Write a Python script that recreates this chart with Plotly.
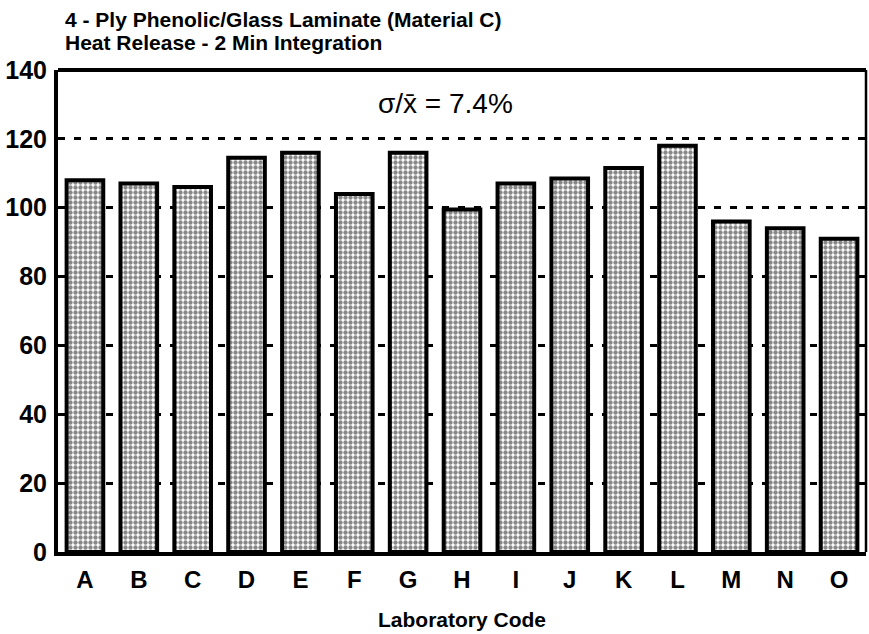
import plotly.graph_objects as go

# Heat release per laboratory, 2 min integration (kW min/m^2)
labs = ["A", "B", "C", "D", "E", "F", "G", "H", "I", "J", "K", "L", "M", "N", "O"]
heat_release = [108, 107, 106, 114.5, 116, 104, 116, 99.5, 107, 108.5, 111.5, 118, 96, 94, 91]
y_ticks = [0, 20, 40, 60, 80, 100, 120, 140]

title_lines = ["4 - Ply Phenolic/Glass Laminate (Material C)",
               "Heat Release - 2 Min Integration"]
cv_label = "σ/x̄ = 7.4%"

FONT = "Liberation Sans, Arial, sans-serif"


def b(s):
    return "<b>" + s + "</b>"


fig = go.Figure()
fig.add_trace(go.Bar(
    x=labs,
    y=heat_release,
    width=0.68,
    marker=dict(
        color="white",
        line=dict(color="black", width=4),
        pattern=dict(shape=".", fgcolor="#111111", bgcolor="white",
                     size=5, solidity=0.6, fillmode="overlay"),
    ),
    showlegend=False,
))

fig.update_layout(
    width=869, height=634,
    margin=dict(l=58, r=3, t=70, b=82),
    paper_bgcolor="white", plot_bgcolor="white",
    font=dict(family=FONT, color="black"),
    bargap=0.32,
    xaxis=dict(
        range=[-0.5, 14.5],
        tickvals=labs, ticktext=[b(s) for s in labs],
        showline=True, linecolor="black", linewidth=4,
        ticks="", tickfont=dict(size=24, color="black"),
        ticklabelstandoff=3,
        showgrid=False,
        title=dict(text=b("Laboratory Code"), font=dict(size=21, color="black"), standoff=22),
    ),
    yaxis=dict(
        range=[0, 140],
        tickvals=y_ticks, ticktext=[b(str(v)) for v in y_ticks],
        showline=True, linecolor="black", linewidth=4,
        ticks="", tickfont=dict(size=25, color="black"),
        ticklabelstandoff=2,
        showgrid=True, gridcolor="black", gridwidth=2.5, griddash="7px,9px",
        zeroline=False,
        layer="above traces",
    ),
)

# top and right frame of the plot box
fig.add_shape(type="line", xref="paper", yref="paper", x0=0, x1=1, y0=1, y1=1,
              line=dict(color="black", width=4))
fig.add_shape(type="line", xref="paper", yref="paper", x0=1, x1=1, y0=0, y1=1,
              line=dict(color="black", width=2.5))

# two-line heading at upper left, one annotation per line
for i, line in enumerate(title_lines):
    fig.add_annotation(text=b(line), xref="paper", yref="paper",
                       x=0.006, y=1.0, yshift=37 - 23 * i, xanchor="left", yanchor="bottom",
                       align="left", showarrow=False,
                       font=dict(size=21, color="black", family=FONT))

# coefficient of variation
fig.add_annotation(text=cv_label, xref="paper", yref="paper",
                   x=0.48, y=0.93, xanchor="center", yanchor="middle",
                   showarrow=False, font=dict(size=28, color="black", family=FONT))

fig.write_html("out.html")
